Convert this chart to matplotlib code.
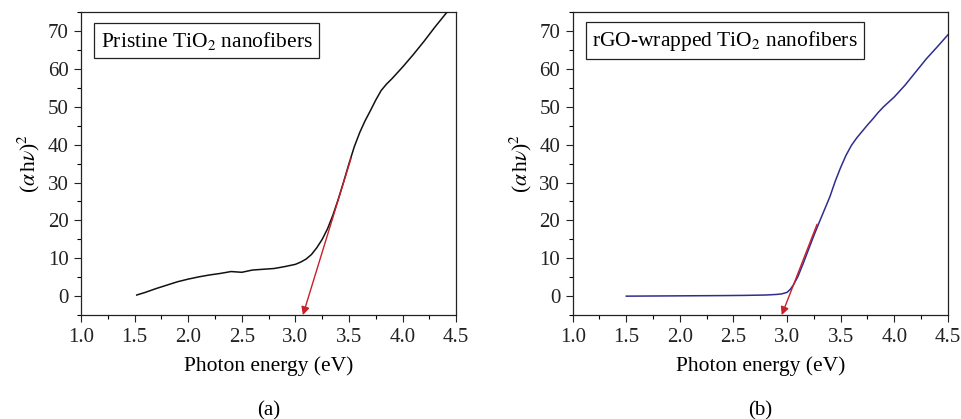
import matplotlib.pyplot as plt
from matplotlib.ticker import MultipleLocator, FormatStrFormatter

plt.rcParams['font.family'] = ['Liberation Serif', 'DejaVu Serif']
plt.rcParams['mathtext.fontset'] = 'stix'

# (a) pristine TiO2 nanofibers
energy_a = [1.52, 1.6, 1.7, 1.8, 1.9, 2.0, 2.1, 2.2, 2.3, 2.4, 2.45, 2.5, 2.55, 2.6,
            2.7, 2.8, 2.9, 3.0, 3.05, 3.1, 3.15, 3.2, 3.25, 3.3, 3.35, 3.4, 3.45,
            3.5, 3.55, 3.6, 3.65, 3.7, 3.75, 3.8, 3.85, 3.9, 4.0, 4.1, 4.2, 4.3, 4.42]
signal_a = [0.3, 1.0, 2.0, 2.9, 3.8, 4.5, 5.1, 5.6, 6.0, 6.5, 6.4, 6.3, 6.6, 6.9,
            7.1, 7.3, 7.8, 8.4, 9.0, 9.8, 11.0, 12.8, 15.0, 17.8, 21.4, 25.6, 30.2,
            35.0, 39.5, 43.2, 46.3, 49.0, 51.8, 54.3, 56.0, 57.4, 60.5, 63.8, 67.3, 71.0, 75.2]
arrow_a = [(3.52, 36.5), (3.07, -5.0)]

# (b) rGO-wrapped TiO2 nanofibers
energy_b = [1.5, 1.8, 2.1, 2.4, 2.6, 2.8, 2.9, 2.95, 3.0, 3.03, 3.06, 3.1, 3.15,
            3.2, 3.25, 3.3, 3.35, 3.4, 3.45, 3.5, 3.55, 3.6, 3.65, 3.7, 3.75, 3.8,
            3.85, 3.9, 4.0, 4.1, 4.2, 4.3, 4.4, 4.5]
signal_b = [0.0, 0.05, 0.1, 0.15, 0.2, 0.3, 0.45, 0.6, 1.0, 1.8, 3.0, 5.1, 8.6,
            12.3, 16.0, 19.5, 22.9, 26.3, 30.4, 34.0, 37.2, 39.8, 41.8, 43.5, 45.2, 46.8,
            48.5, 50.0, 52.6, 55.7, 59.2, 62.7, 65.8, 69.0]
arrow_b = [(3.28, 19.0), (2.95, -5.0)]

panels = [
    (energy_a, signal_a, arrow_a, '#111111', 'Pristine TiO$_2$ nanofibers', '(a)'),
    (energy_b, signal_b, arrow_b, '#2e2e90', 'rGO-wrapped TiO$_2$ nanofibers', '(b)'),
]

fig = plt.figure(figsize=(9.62, 4.19), dpi=100)
lefts = [0.0842, 0.5953]

for left, (x, y, arr, color, label, tag) in zip(lefts, panels):
    ax = fig.add_axes([left, 0.248, 0.390, 0.723])
    ax.plot(x, y, color=color, lw=1.1, zorder=3)
    ax.annotate('', xy=arr[1], xytext=arr[0],
                arrowprops=dict(arrowstyle='-|>', color='#c8202a', lw=1.0,
                                mutation_scale=12, shrinkA=0, shrinkB=0),
                zorder=4)
    ax.set_xlim(1.0, 4.5)
    ax.set_ylim(-5, 75)
    ax.xaxis.set_major_locator(MultipleLocator(0.5))
    ax.xaxis.set_minor_locator(MultipleLocator(0.25))
    ax.yaxis.set_major_locator(MultipleLocator(10))
    ax.yaxis.set_minor_locator(MultipleLocator(5))
    ax.xaxis.set_major_formatter(FormatStrFormatter('%.1f'))
    ax.tick_params(which='major', direction='out', length=5, width=0.8,
                   labelsize=15, colors='#222222', pad=4)
    ax.tick_params(which='minor', direction='out', length=3, width=0.8)
    for s in ax.spines.values():
        s.set_linewidth(0.9)
        s.set_color('#222222')
    ax.set_xlabel('Photon energy (eV)', fontsize=15.5, labelpad=7)
    ax.set_ylabel(r'($\alpha\,$h$\nu$)$^2$', fontsize=15.5, labelpad=4)
    ax.text(0.052, 0.906, label, transform=ax.transAxes, fontsize=15.5,
            va='center', ha='left',
            bbox=dict(boxstyle='square,pad=0.3', fc='white', ec='#222222', lw=0.9))
    ax.text(0.5, -0.285, tag, transform=ax.transAxes, fontsize=15,
            ha='center', va='top')

fig.savefig('out.png', dpi=100)
